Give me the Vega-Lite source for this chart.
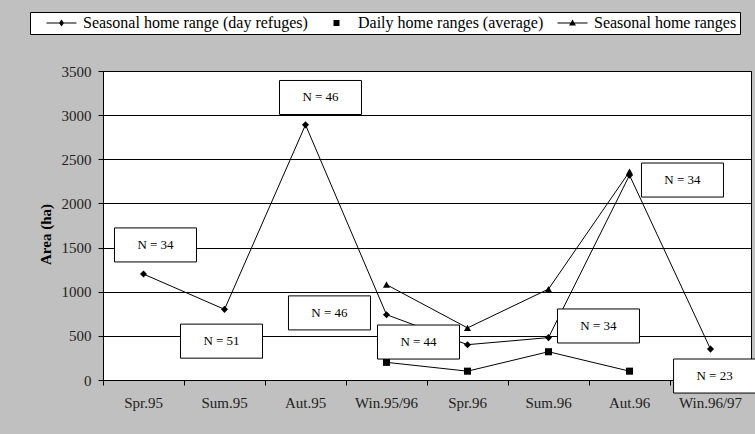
{
  "$schema": "https://vega.github.io/schema/vega-lite/v6.json",
  "width": 648,
  "height": 309,
  "autosize": "none",
  "padding": {"left": 103, "top": 71, "right": 4, "bottom": 54},
  "background": "#c0c0c0",
  "view": {"fill": "white", "stroke": "black", "strokeWidth": 1},
  "config": {"font": "Liberation Serif, Times New Roman, DejaVu Serif, serif"},
  "datasets": {
    "pts": [
      {"season": "Spr.95", "series": "Seasonal home range (day refuges)", "value": 1200},
      {"season": "Sum.95", "series": "Seasonal home range (day refuges)", "value": 800},
      {"season": "Aut.95", "series": "Seasonal home range (day refuges)", "value": 2890},
      {"season": "Win.95/96", "series": "Seasonal home range (day refuges)", "value": 740},
      {"season": "Spr.96", "series": "Seasonal home range (day refuges)", "value": 400},
      {"season": "Sum.96", "series": "Seasonal home range (day refuges)", "value": 480},
      {"season": "Aut.96", "series": "Seasonal home range (day refuges)", "value": 2320},
      {"season": "Win.96/97", "series": "Seasonal home range (day refuges)", "value": 350},
      {"season": "Win.95/96", "series": "Daily home ranges (average)", "value": 200},
      {"season": "Spr.96", "series": "Daily home ranges (average)", "value": 100},
      {"season": "Sum.96", "series": "Daily home ranges (average)", "value": 320},
      {"season": "Aut.96", "series": "Daily home ranges (average)", "value": 100},
      {"season": "Win.95/96", "series": "Seasonal home ranges", "value": 1080},
      {"season": "Spr.96", "series": "Seasonal home ranges", "value": 590},
      {"season": "Sum.96", "series": "Seasonal home ranges", "value": 1030},
      {"season": "Aut.96", "series": "Seasonal home ranges", "value": 2360}
    ],
    "notes": [
      {"season": "Spr.95", "pos": 0.648, "value": 1530, "label": "N = 34"},
      {"season": "Sum.95", "pos": 0.463, "value": 440, "label": "N = 51"},
      {"season": "Aut.95", "pos": 0.685, "value": 3200, "label": "N = 46"},
      {"season": "Aut.95", "pos": 0.796, "value": 760, "label": "N = 46"},
      {"season": "Win.95/96", "pos": 0.895, "value": 430, "label": "N = 44"},
      {"season": "Sum.96", "pos": 1.117, "value": 612, "label": "N = 34"},
      {"season": "Aut.96", "pos": 1.154, "value": 2265, "label": "N = 34"},
      {"season": "Win.96/97", "pos": 0.55, "value": 45, "label": "N = 23"}
    ]
  },
  "encoding": {
    "x": {
      "field": "season",
      "type": "nominal",
      "sort": ["Spr.95", "Sum.95", "Aut.95", "Win.95/96", "Spr.96", "Sum.96", "Aut.96", "Win.96/97"],
      "scale": {"type": "band", "paddingInner": 0, "paddingOuter": 0},
      "axis": {
        "title": null,
        "bandPosition": 0,
        "labelAngle": 0,
        "tickSize": 5,
        "tickColor": "black",
        "domainColor": "black",
        "labelPadding": 10,
        "labelFontSize": 15,
        "labelColor": "#222",
        "grid": false
      }
    },
    "y": {
      "field": "value",
      "type": "quantitative",
      "scale": {"domain": [0, 3500], "nice": false},
      "axis": {
        "title": "Area (ha)",
        "values": [0, 500, 1000, 1500, 2000, 2500, 3000, 3500],
        "format": "d",
        "grid": true,
        "gridColor": "black",
        "gridOpacity": 1,
        "gridWidth": 1,
        "tickSize": 5,
        "tickColor": "black",
        "domainColor": "black",
        "labelPadding": 7,
        "labelFontSize": 15,
        "labelColor": "#222",
        "titleFontSize": 15,
        "titleFontWeight": "bold",
        "titleColor": "black",
        "titlePadding": 8,
        "titleY": 163
      }
    }
  },
  "resolve": {"scale": {"shape": "independent"}},
  "layer": [
    {
      "data": {"name": "pts"},
      "mark": {"type": "line", "color": "black", "strokeWidth": 1},
      "encoding": {"detail": {"field": "series"}}
    },
    {
      "data": {"name": "pts"},
      "mark": {"type": "point", "filled": true, "color": "black", "opacity": 0},
      "encoding": {
        "shape": {
          "field": "series",
          "type": "nominal",
          "scale": {
            "domain": ["Seasonal home range (day refuges)", "Daily home ranges (average)", "Seasonal home ranges"],
            "range": [
              "M-2.5,-0.083H2.5V0.083H-2.5ZM0,-0.58L0.42,0L0,0.58L-0.42,0Z",
              "M-0.5,-0.5H0.5V0.5H-0.5Z",
              "M-2.5,-0.083H2.5V0.083H-2.5ZM0,-0.58L0.58,0.42H-0.58Z"
            ]
          },
          "legend": {
            "orient": "none",
            "legendX": -73,
            "legendY": -59,
            "direction": "horizontal",
            "title": null,
            "fillColor": "white",
            "strokeColor": "black",
            "padding": 3,
            "columnPadding": -3.5,
            "labelFontSize": 16,
            "labelColor": "black",
            "labelLimit": 0,
            "labelOffset": 13.5,
            "symbolOffset": 20.5,
            "symbolSize": 144,
            "symbolOpacity": 1,
            "symbolFillColor": "black",
            "symbolStrokeColor": "black",
            "symbolStrokeWidth": 0
          }
        }
      }
    },
    {
      "data": {"name": "pts"},
      "mark": {"type": "point", "filled": true, "color": "black", "opacity": 1, "size": 50},
      "encoding": {
        "shape": {
          "field": "series",
          "type": "nominal",
          "scale": {
            "domain": ["Seasonal home range (day refuges)", "Daily home ranges (average)", "Seasonal home ranges"],
            "range": ["diamond", "square", "triangle-up"]
          },
          "legend": null
        }
      }
    },
    {
      "data": {"name": "notes"},
      "mark": {
        "type": "point",
        "shape": "M-1,-0.415H1V0.415H-1Z",
        "size": 6724,
        "filled": true,
        "fill": "white",
        "stroke": "black",
        "strokeWidth": 1,
        "opacity": 1
      },
      "encoding": {
        "xOffset": {"field": "pos", "type": "quantitative", "scale": {"domain": [0, 1]}}
      }
    },
    {
      "data": {"name": "notes"},
      "mark": {"type": "text", "fontSize": 13, "color": "black", "align": "center", "baseline": "middle"},
      "encoding": {
        "xOffset": {"field": "pos", "type": "quantitative", "scale": {"domain": [0, 1]}},
        "text": {"field": "label"}
      }
    }
  ]
}
